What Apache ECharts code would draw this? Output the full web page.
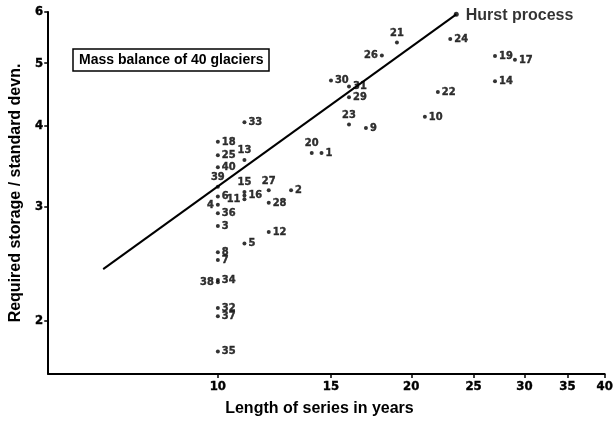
<!DOCTYPE html>
<html><head><meta charset="utf-8">
<script src="https://cdn.jsdelivr.net/npm/echarts@6/dist/echarts.min.js"></script>
<style>html,body{margin:0;padding:0;background:#fff}#c{width:616px;height:422px}</style>
</head><body><div id="c"></div>
<script>
// Glacier number, length of series (years), required storage / standard deviation
const glacierIds   = [1,2,3,4,5,6,7,8,9,10,11,12,13,14,15,16,17,18,19,20,21,22,23,24,25,26,27,28,29,30,31,32,33,34,35,36,37,38,39,40];
const seriesLength = [14.5,13,10,10,11,10,10,10,17,21,11,12,11,27,11,11,29,10,27,14,19,22,16,23,10,18,12,12,16,15,16,10,11,10,10,10,10,10,10,10];
const storageRatio = [3.63,3.18,2.80,3.02,2.63,3.11,2.48,2.55,3.97,4.13,3.08,2.74,3.54,4.69,3.16,3.12,5.06,3.78,5.13,3.63,5.38,4.51,4.02,5.45,3.60,5.14,3.18,3.04,4.43,4.70,4.60,2.09,4.05,2.31,1.79,2.93,2.03,2.29,3.22,3.45];
// Hurst process reference line (end points)
const hurstLength = [6.63, 23.5];
const hurstRatio  = [2.40, 5.95];
// Tick labels
const xTicks = [10,15,20,25,30,35,40];
const yTicks = [2,3,4,5,6];

// label placement per glacier (style only)
const labelPlacement = {
  4:['left',-1,0], 11:['left',1,8], 13:['top',0,1], 15:['top',-5,1], 20:['top',-6,1],
  21:['top',-6,1], 23:['top',0,1], 26:['left',-1,-2], 27:['top',0,1], 38:['left',-1,2], 39:['top',-5,1],
  34:['right',1,-4], 29:['right',1,3], 31:['right',1,2], 36:['right',1,3], 37:['right',1,3]
};

const numFont = "'Liberation Sans Narrow','DejaVu Sans Condensed',sans-serif";
const chart = echarts.init(document.getElementById('c'), null, {renderer:'canvas'});

const points = glacierIds.map((id, i) => {
  const p = labelPlacement[id] || ['right',1,0];
  return {
    value: [seriesLength[i], storageRatio[i]],
    name: String(id),
    label: {position: p[0], offset: [p[1], p[2]]}
  };
});

chart.setOption({
  animation: false,
  title: {
    text: 'Mass balance of 40 glaciers',
    left: 73, top: 49,
    borderColor: '#000', borderWidth: 1.5,
    padding: [4, 6],
    textStyle: {fontSize: 14, fontWeight: 'bold', color: '#000', fontFamily: "'Liberation Sans',Arial,sans-serif"}
  },
  grid: {left: 48, right: 10, top: 12, bottom: 46, containLabel: false},
  xAxis: {
    type: 'log', logBase: 10, min: 5.445, max: 40,
    name: 'Length of series in years', nameLocation: 'middle', nameGap: 27,
    nameTextStyle: {fontSize: 16, fontWeight: 'bold', color: '#000', fontFamily: "'Liberation Sans',Arial,sans-serif", padding:[0,14,0,0]},
    axisLine: {show: true, lineStyle: {color: '#000', width: 2}},
    axisTick: {show: true, customValues: xTicks, length: 4, inside: false, lineStyle: {color: '#000', width: 1.5}},
    axisLabel: {customValues: xTicks, fontSize: 13, fontWeight: 'bold', color: '#000', fontFamily: numFont, margin: 6, textBorderColor: '#000', textBorderWidth: 0.4},
    splitLine: {show: false}, minorTick: {show: false}
  },
  yAxis: {
    type: 'log', logBase: 10, min: 1.652, max: 6,
    name: 'Required storage / standard devn.', nameLocation: 'middle', nameGap: 22,
    nameTextStyle: {fontSize: 16, fontWeight: 'bold', color: '#000', fontFamily: "'Liberation Sans',Arial,sans-serif"},
    axisLine: {show: true, lineStyle: {color: '#000', width: 2}},
    axisTick: {show: true, customValues: yTicks, length: 4, inside: false, lineStyle: {color: '#000', width: 1.5}},
    axisLabel: {customValues: yTicks, fontSize: 13, fontWeight: 'bold', color: '#000', fontFamily: numFont, margin: 5, textBorderColor: '#000', textBorderWidth: 0.4},
    splitLine: {show: false}, minorTick: {show: false}
  },
  series: [
    {
      type: 'line',
      data: hurstLength.map((x, i) => [x, hurstRatio[i]]),
      symbol: 'none',
      lineStyle: {color: '#000', width: 2},
      silent: true, z: 2
    },
    {
      type: 'scatter',
      data: [{value: [hurstLength[1], hurstRatio[1]], name: 'Hurst process'}],
      symbol: 'circle', symbolSize: 5,
      itemStyle: {color: '#000'},
      label: {show: true, position: 'right', offset: [2, 1], formatter: '{b}', fontSize: 16, fontWeight: 'bold', color: '#000', fontFamily: "'Liberation Sans',Arial,sans-serif"},
      z: 3
    },
    {
      type: 'scatter',
      data: points,
      symbol: 'circle', symbolSize: 4,
      itemStyle: {color: '#000'},
      label: {show: true, formatter: '{b}', fontSize: 11, fontWeight: 'bold', color: '#000', fontFamily: numFont, distance: 2, textBorderColor: '#000', textBorderWidth: 0.4},
      labelLayout: {hideOverlap: false},
      z: 4
    }
  ]
});
</script>
</body></html>
